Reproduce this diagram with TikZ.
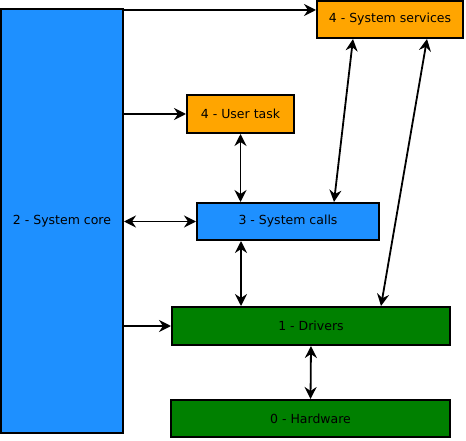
\documentclass[tikz,border=0pt]{standalone}
\usepackage{fontspec}
\setmainfont{DejaVu Sans}
\usepackage{tikz}
\usetikzlibrary{arrows.meta, positioning, calc}
\definecolor{coreblue}{HTML}{1E90FF}
\definecolor{taskorange}{HTML}{FFA500}
\definecolor{drvgreen}{HTML}{008000}
\tikzstyle{arrow} = [line width=1.8pt, -{Stealth[length=12pt, width=12pt, inset=4pt]}]
\tikzstyle{biarrow} = [line width=1.8pt, {Stealth[length=12pt, width=12pt, inset=4pt]}-{Stealth[length=12pt, width=12pt, inset=4pt]}]

\begin{document}
\begin{tikzpicture}[
	x=1pt, y=-1pt,
	every node/.style={font=\fontsize{12.5}{15}\selectfont},
	layer/.style={rectangle, draw=black, line width=2pt, inner sep=0pt, align=center}
]
\useasboundingbox (0,0) rectangle (466,441);

% Layers
\node[layer, fill=coreblue, minimum width=122pt, minimum height=424pt] (core) at (62,221) {2 - System core};
\node[layer, fill=taskorange, minimum width=146pt, minimum height=37pt] (services) at (390,19.5) {4 - System services};
\node[layer, fill=taskorange, minimum width=107pt, minimum height=38pt] (utask) at (240.5,114) {4 - User task};
\node[layer, fill=coreblue, minimum width=182pt, minimum height=37pt] (syscalls) at (288,221.5) {3 - System calls};
\node[layer, fill=drvgreen, minimum width=278pt, minimum height=38pt] (drivers) at (311,326) {1 - Drivers};
\node[layer, fill=drvgreen, minimum width=279pt, minimum height=37pt] (hardware) at (310.5,418.5) {0 - Hardware};

% Core to the other layers
\draw[arrow] (core.east |- 0,10) -- (services.west |- 0,10);
\draw[arrow] (core.east |- utask) -- (utask);
\draw[biarrow] (core.east |- syscalls) -- (syscalls);
\draw[arrow] (core.east |- drivers) -- (drivers);

% Between layers
\draw[biarrow] (utask.south) -- (utask.south |- syscalls.north);
\draw[biarrow] ($(syscalls.north west)+(138,0)$) -- ($(services.south west)+(37,0)$);
\draw[biarrow] ($(drivers.north west)+(210,0)$) -- ($(services.south west)+(111,0)$);
\draw[biarrow] ($(syscalls.south west)+(45,0)$) -- ($(drivers.north west)+(70,0)$);
\draw[biarrow] (drivers.south) -- (hardware.north);

\end{tikzpicture}
\end{document}
